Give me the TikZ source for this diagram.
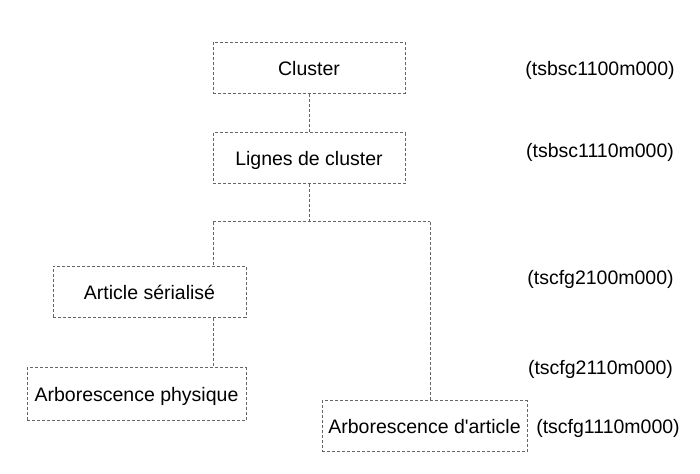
\documentclass[tikz,border=0pt]{standalone}
\usepackage{fontspec}
\setmainfont{Liberation Sans}
\usepackage{tikz}
\tikzset{
    tnode/.style = {align=center, inner sep=0pt, text height=0.72em, text depth=0pt},
    box/.style = {tnode, rectangle, draw=black!60, dash pattern=on 1.5pt off 1pt, line width=0.5pt, minimum height=25.5pt},
    wire/.style = {draw=black!60, dash pattern=on 1.5pt off 1pt, line width=0.5pt},
    prog/.style = {tnode, black}
}

\begin{document}
\begin{tikzpicture}
    [x=0.5pt, y=-0.5pt, font=\fontsize{9.75}{11}\selectfont]
    \useasboundingbox (0,0) rectangle (700,474);

    \node [box, minimum width=96pt] (cluster) at (309,68) {Cluster};
    \node [box, minimum width=96pt] (lignes) at (309,158.5) {Lignes de cluster};
    \node [box, minimum width=96.5pt] (serial) at (149.5,292) {Article sérialisé};
    \node [box, minimum width=109.5pt, minimum height=26.5pt] (physique) at (136.5,394.5) {Arborescence physique};
    \node [box, minimum width=102.5pt] (arbart) at (424.5,426.5) {Arborescence d\textquotesingle article};

    \coordinate (barL) at (213,222);
    \coordinate (barR) at (430,222);

    \draw [wire] (cluster) -- (lignes);
    \draw [wire] (lignes) -- (lignes |- barL);
    \draw [wire] (barL) -- (barR);
    \draw [wire] (barL) -- (barL |- serial.north);
    \draw [wire] (barR) -- (barR |- arbart.north);
    \draw [wire] (serial.south -| barL) -- (barL |- physique.north);

    \node [prog] (p1) at (600,68) {(tsbsc1100m000)};
    \node [prog] (p2) at (600,150) {(tsbsc1110m000)};
    \node [prog] (p3) at (600.5,277) {(tscfg2100m000)};
    \node [prog] (p4) at (600.5,367) {(tscfg2110m000)};
    \node [prog] (p5) at (608,426) {(tscfg1110m000)};
\end{tikzpicture}
\end{document}
